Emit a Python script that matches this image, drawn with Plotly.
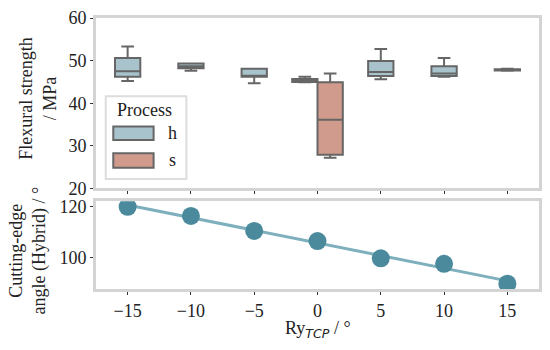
import numpy as np
import plotly.graph_objects as go
from plotly.subplots import make_subplots

# --- data -------------------------------------------------------------
ry_tcp = [-15, -10, -5, 0, 5, 10, 15]

# flexural strength box statistics, process "h"
h_upper = [53.3, 49.3, 48.1, 46.2, 52.7, 50.6, 48.1]
h_q3 = [50.6, 49.3, 48.1, 45.7, 49.9, 48.7, 48.0]
h_median = [47.5, 48.7, 46.4, 45.3, 47.3, 47.0, 47.8]
h_q1 = [46.2, 48.2, 46.2, 45.0, 46.4, 46.4, 47.7]
h_lower = [45.2, 47.6, 44.7, 44.9, 45.6, 46.2, 47.6]

# process "s" (only measured at 0)
s_pos = [0]
s_upper = [47.0]
s_q3 = [44.9]
s_median = [36.1]
s_q1 = [27.9]
s_lower = [27.2]

# cutting-edge angle of the hybrid process
angle_hybrid = [120.0, 116.4, 110.5, 106.5, 99.7, 97.5, 89.7]

# --- styling ------------------------------------------------------------
FONT = "Liberation Serif"
FRAME = "#d4d4d4"
EDGE = "#666666"
H_FILL = "#a9c3cc"
S_FILL = "#d09b8c"
DOT = "#4b8a9c"
FIT = "#7eafbc"
DODGE = 1.0

fig = make_subplots(rows=2, cols=1, shared_xaxes=True,
                    row_heights=[0.66, 0.34], vertical_spacing=0.047)

h_x = [p - DODGE if p in s_pos else p for p in ry_tcp]
s_x = [p + DODGE for p in s_pos]

box_style = dict(width=2.0, whiskerwidth=0.5, line=dict(color=EDGE, width=2),
                 showlegend=False, hoverinfo="skip")
fig.add_trace(go.Box(x=h_x, q1=h_q1, median=h_median, q3=h_q3,
                     lowerfence=h_lower, upperfence=h_upper,
                     fillcolor=H_FILL, name="h", **box_style), row=1, col=1)
fig.add_trace(go.Box(x=s_x, q1=s_q1, median=s_median, q3=s_q3,
                     lowerfence=s_lower, upperfence=s_upper,
                     fillcolor=S_FILL, name="s", **box_style), row=1, col=1)

# regression line through the angle points
slope, icpt = np.polyfit(ry_tcp, angle_hybrid, 1)
fit_x = [min(ry_tcp), max(ry_tcp)]
fig.add_trace(go.Scatter(x=fit_x, y=[slope * v + icpt for v in fit_x],
                         mode="lines", line=dict(color=FIT, width=3),
                         showlegend=False), row=2, col=1)
fig.add_trace(go.Scatter(x=ry_tcp, y=angle_hybrid, mode="markers",
                         marker=dict(color=DOT, size=18),
                         showlegend=False), row=2, col=1)

axis_common = dict(showline=True, mirror=True, linecolor=FRAME, linewidth=3,
                   showgrid=False, zeroline=False, ticks="outside",
                   ticklen=3, tickwidth=1, tickcolor="#333333",
                   ticklabeloverflow="allow",
                   tickfont=dict(family=FONT, size=18, color="#222222"))

tick_text = [str(v).replace("-", "\u2212") for v in ry_tcp]
fig.update_xaxes(range=[-17.5, 17.5], tickvals=ry_tcp, ticktext=tick_text,
                 **axis_common)
fig.update_xaxes(showticklabels=False, row=1, col=1)
fig.update_yaxes(range=[20, 60], dtick=10, **axis_common, row=1, col=1)
fig.update_yaxes(range=[87.6, 122.2], tickvals=[100, 120], **axis_common,
                 row=2, col=1)

# legend drawn by hand in the top panel
fig.add_shape(type="rect", xref="x domain", yref="y domain",
              x0=0.022, x1=0.204, y0=0.055, y1=0.541,
              line=dict(color="#dddddd", width=2), fillcolor="white")
for fill, y0, y1 in [(H_FILL, 0.284, 0.364), (S_FILL, 0.122, 0.206)]:
    fig.add_shape(type="rect", xref="x domain", yref="y domain",
                  x0=0.039, x1=0.130, y0=y0, y1=y1,
                  line=dict(color=EDGE, width=2), fillcolor=fill)

ann_font = dict(family=FONT, size=18, color="#222222")
centered = dict(showarrow=False, font=ann_font, xanchor="center", yanchor="middle")
legend_text = [("Process", 0.110, 0.463), ("h", 0.173, 0.326), ("s", 0.173, 0.166)]
for txt, ax, ay in legend_text:
    fig.add_annotation(text=txt, xref="x domain", yref="y domain", x=ax, y=ay,
                       **centered)

# axis titles
fig.add_annotation(text="Flexural strength<br>/ MPa", xref="paper", yref="paper",
                   x=-0.132, y=0.70, textangle=-90, **centered)
fig.add_annotation(text="Cutting-edge<br>angle (Hybrid) / °", xref="paper",
                   yref="paper", x=-0.154, y=0.141, textangle=-90, **centered)
fig.add_annotation(
    text='Ry<sub><span style="font-family:DejaVu Sans;font-style:italic">TCP</span></sub> / °',
    xref="paper", yref="paper", x=0.5, y=-0.149, **centered)

fig.update_layout(
    width=550, height=350,
    boxmode="overlay",
    plot_bgcolor="white", paper_bgcolor="white",
    margin=dict(l=96, r=8, t=13, b=61),
    font=dict(family=FONT, size=18, color="#222222"),
)

# drop the default body margin so the figure fills the window exactly
fig.write_html("out.html", config={"displayModeBar": False},
               post_script="document.body.style.margin = '0';")
